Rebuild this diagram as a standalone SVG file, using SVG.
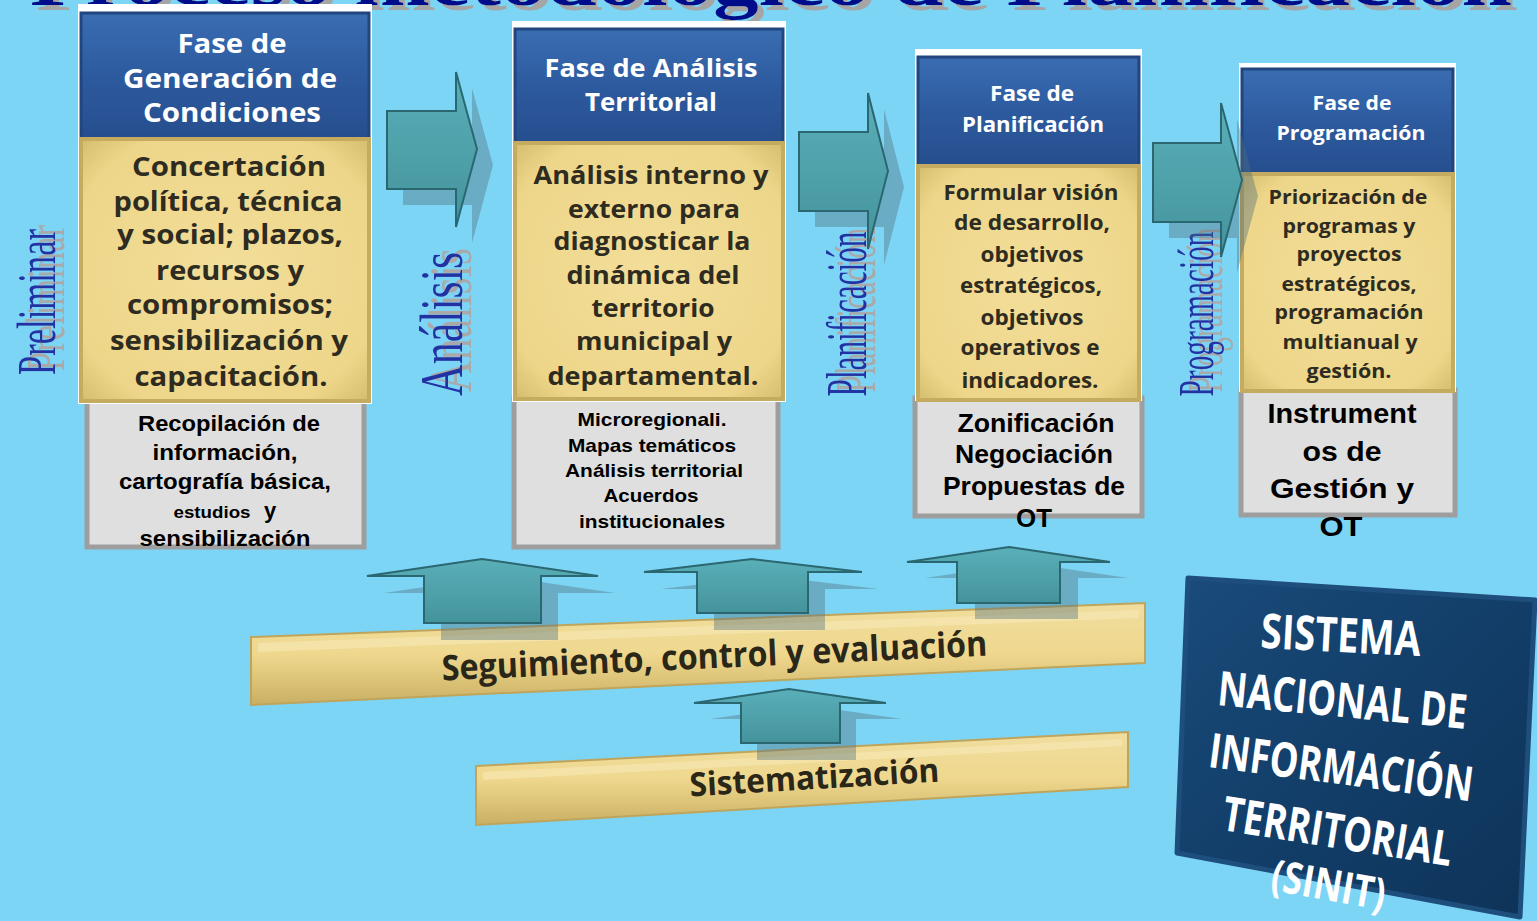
<svg xmlns="http://www.w3.org/2000/svg" width="1537" height="921" viewBox="0 0 1537 921">
<defs>
<linearGradient id="gBlue" x1="0" y1="0" x2="0" y2="1">
<stop offset="0" stop-color="#3A6DB3"/><stop offset="0.5" stop-color="#2D5A9E"/><stop offset="1" stop-color="#264E8E"/>
</linearGradient>
<radialGradient id="gYel" cx="0.5" cy="0.5" r="0.7">
<stop offset="0" stop-color="#F3DE9A"/><stop offset="0.8" stop-color="#EDD689"/><stop offset="1" stop-color="#D6BE70"/>
</radialGradient>
<linearGradient id="gTeal" x1="0" y1="0" x2="0" y2="1">
<stop offset="0" stop-color="#5AAFB8"/><stop offset="1" stop-color="#44939C"/>
</linearGradient>
<linearGradient id="gBar" x1="0" y1="0" x2="0" y2="1">
<stop offset="0" stop-color="#F0DD9E"/><stop offset="0.5" stop-color="#EFD88E"/><stop offset="1" stop-color="#C9AF63"/>
</linearGradient>
<linearGradient id="gSin" x1="0" y1="0" x2="1" y2="1">
<stop offset="0" stop-color="#1A4B7A"/><stop offset="0.5" stop-color="#123E69"/><stop offset="1" stop-color="#0E3358"/>
</linearGradient>
<filter id="fTitle" x="-5%" y="-30%" width="110%" height="160%">
<feOffset in="SourceAlpha" dx="6" dy="5" result="o"/>
<feFlood flood-color="#A5A5A5"/>
<feComposite in2="o" operator="in" result="s"/>
<feMerge><feMergeNode in="s"/><feMergeNode in="SourceGraphic"/></feMerge>
</filter>
<filter id="fVert" x="-10%" y="-30%" width="120%" height="160%">
<feOffset in="SourceAlpha" dx="4" dy="9" result="o"/>
<feFlood flood-color="#A9A9A9"/>
<feComposite in2="o" operator="in" result="s"/>
<feMerge><feMergeNode in="s"/><feMergeNode in="SourceGraphic"/></feMerge>
</filter>
<style>
.bg{fill:#7DD5F6}
.wb{fill:#FFFFFF}
.bh{fill:url(#gBlue);stroke:#21467F;stroke-width:3}
.yb{fill:url(#gYel);stroke:#C4AB60;stroke-width:4}
.gb{fill:#DFDFDF;stroke:#9E9E9E;stroke-width:5}
.hd{font-family:"Open Sans","Liberation Sans",sans-serif;font-weight:700;fill:#FFFFFF;text-anchor:middle}
.yl{font-family:"Open Sans","Liberation Sans",sans-serif;font-weight:700;fill:#2E2B20;text-anchor:middle}
.gr{font-family:"Liberation Sans",Arial,sans-serif;font-weight:700;fill:#000000;text-anchor:middle}
.vl{font-family:"Liberation Serif","Times New Roman",serif;fill:#2333A3;text-anchor:middle;filter:url(#fVert)}
.ar{fill:url(#gTeal);stroke:#2B6770;stroke-width:2}
.sh{fill:#4F6E7E;opacity:0.4}
.bar{fill:url(#gBar);stroke:#BFA55C;stroke-width:2}
.bt{font-family:"Open Sans","Liberation Sans",sans-serif;font-weight:700;fill:#2A2618;text-anchor:middle}
.st{font-family:"Open Sans","Liberation Sans",sans-serif;font-weight:700;fill:#FFFFFF;text-anchor:middle}
</style>
</defs>
<rect class="bg" x="0" y="0" width="1537" height="921"/>

<g id="title">
<text x="30" y="5" font-family="Liberation Serif,serif" font-weight="700" font-size="72" fill="#00108A" filter="url(#fTitle)" textLength="1482" lengthAdjust="spacingAndGlyphs">Proceso metodológico de Planificación</text>
</g>

<g id="label-preliminar">
<text class="vl" font-size="54" transform="translate(55,302) rotate(-90)" textLength="146" lengthAdjust="spacingAndGlyphs">Preliminar</text>
</g>
<g id="label-analisis">
<text class="vl" font-size="62" transform="translate(462,324) rotate(-90)" textLength="144" lengthAdjust="spacingAndGlyphs">Análisis</text>
</g>
<g id="label-planificacion">
<text class="vl" font-size="56" transform="translate(866,314) rotate(-90)" textLength="165" lengthAdjust="spacingAndGlyphs">Planificación</text>
</g>
<g id="label-programacion">
<text class="vl" font-size="50" transform="translate(1213,314) rotate(-90)" textLength="165" lengthAdjust="spacingAndGlyphs">Programación</text>
</g>

<g id="fase-generacion">
<rect class="gb" x="87" y="400" width="277" height="147"/>
<rect class="wb" x="78" y="4" width="294" height="400"/>
<rect class="bh" x="81" y="13" width="288" height="127"/>
<rect class="yb" x="81" y="139" width="288" height="262"/>
<text class="hd" font-size="27" x="232" y="53" textLength="109" lengthAdjust="spacingAndGlyphs">Fase de</text>
<text class="hd" font-size="27" x="230" y="88" textLength="214" lengthAdjust="spacingAndGlyphs">Generación de</text>
<text class="hd" font-size="27" x="232" y="122" textLength="178" lengthAdjust="spacingAndGlyphs">Condiciones</text>
<text class="yl" font-size="26" x="229" y="176" textLength="194" lengthAdjust="spacingAndGlyphs">Concertación</text>
<text class="yl" font-size="26" x="228" y="211" textLength="229" lengthAdjust="spacingAndGlyphs">política, técnica</text>
<text class="yl" font-size="26" x="230" y="244" textLength="226" lengthAdjust="spacingAndGlyphs">y social; plazos,</text>
<text class="yl" font-size="26" x="230" y="280" textLength="148" lengthAdjust="spacingAndGlyphs">recursos y</text>
<text class="yl" font-size="26" x="230" y="314" textLength="206" lengthAdjust="spacingAndGlyphs">compromisos;</text>
<text class="yl" font-size="26" x="229" y="350" textLength="238" lengthAdjust="spacingAndGlyphs">sensibilización y</text>
<text class="yl" font-size="26" x="231" y="386" textLength="193" lengthAdjust="spacingAndGlyphs">capacitación.</text>
<text class="gr" font-size="22" x="229" y="431" textLength="182" lengthAdjust="spacingAndGlyphs">Recopilación de</text>
<text class="gr" font-size="22" x="225" y="460" textLength="145" lengthAdjust="spacingAndGlyphs">información,</text>
<text class="gr" font-size="22" x="225" y="489" textLength="212" lengthAdjust="spacingAndGlyphs">cartografía básica,</text>
<text class="gr" font-size="16" x="212" y="518" textLength="77" lengthAdjust="spacingAndGlyphs">estudios</text>
<text class="gr" font-size="22" x="270" y="518">y</text>
<text class="gr" font-size="22" x="225" y="546" textLength="171" lengthAdjust="spacingAndGlyphs">sensibilización</text>
</g>

<g id="fase-analisis">
<rect class="gb" x="514" y="398" width="264" height="149"/>
<rect class="wb" x="512" y="21" width="274" height="381"/>
<rect class="bh" x="515" y="29" width="268" height="115"/>
<rect class="yb" x="515" y="143" width="268" height="256"/>
<text class="hd" font-size="25" x="651" y="77" textLength="213" lengthAdjust="spacingAndGlyphs">Fase de Análisis</text>
<text class="hd" font-size="25" x="651" y="111" textLength="132" lengthAdjust="spacingAndGlyphs">Territorial</text>
<text class="yl" font-size="25" x="651" y="184" textLength="235" lengthAdjust="spacingAndGlyphs">Análisis interno y</text>
<text class="yl" font-size="25" x="654" y="218" textLength="172" lengthAdjust="spacingAndGlyphs">externo para</text>
<text class="yl" font-size="25" x="652" y="250" textLength="197" lengthAdjust="spacingAndGlyphs">diagnosticar la</text>
<text class="yl" font-size="25" x="653" y="284" textLength="173" lengthAdjust="spacingAndGlyphs">dinámica del</text>
<text class="yl" font-size="25" x="653" y="317" textLength="123" lengthAdjust="spacingAndGlyphs">territorio</text>
<text class="yl" font-size="25" x="654" y="350" textLength="156" lengthAdjust="spacingAndGlyphs">municipal y</text>
<text class="yl" font-size="25" x="653" y="385" textLength="211" lengthAdjust="spacingAndGlyphs">departamental.</text>
<text class="gr" font-size="19" x="652" y="426" textLength="149" lengthAdjust="spacingAndGlyphs">Microregionali.</text>
<text class="gr" font-size="19" x="652" y="452" textLength="168" lengthAdjust="spacingAndGlyphs">Mapas temáticos</text>
<text class="gr" font-size="19" x="654" y="477" textLength="178" lengthAdjust="spacingAndGlyphs">Análisis territorial</text>
<text class="gr" font-size="19" x="651" y="502" textLength="95" lengthAdjust="spacingAndGlyphs">Acuerdos</text>
<text class="gr" font-size="19" x="652" y="528" textLength="146" lengthAdjust="spacingAndGlyphs">institucionales</text>
</g>

<g id="fase-planificacion">
<rect class="gb" x="915" y="398" width="227" height="118"/>
<rect class="wb" x="915" y="49" width="227" height="352"/>
<rect class="bh" x="918" y="57" width="221" height="110"/>
<rect class="yb" x="918" y="166" width="221" height="234"/>
<text class="hd" font-size="22" x="1032" y="101" textLength="84" lengthAdjust="spacingAndGlyphs">Fase de</text>
<text class="hd" font-size="22" x="1033" y="132" textLength="142" lengthAdjust="spacingAndGlyphs">Planificación</text>
<text class="yl" font-size="22" x="1031" y="200" textLength="175" lengthAdjust="spacingAndGlyphs">Formular visión</text>
<text class="yl" font-size="22" x="1032" y="230" textLength="156" lengthAdjust="spacingAndGlyphs">de desarrollo,</text>
<text class="yl" font-size="22" x="1032" y="262" textLength="103" lengthAdjust="spacingAndGlyphs">objetivos</text>
<text class="yl" font-size="22" x="1031" y="293" textLength="142" lengthAdjust="spacingAndGlyphs">estratégicos,</text>
<text class="yl" font-size="22" x="1032" y="325" textLength="103" lengthAdjust="spacingAndGlyphs">objetivos</text>
<text class="yl" font-size="22" x="1030" y="355" textLength="139" lengthAdjust="spacingAndGlyphs">operativos e</text>
<text class="yl" font-size="22" x="1030" y="388" textLength="137" lengthAdjust="spacingAndGlyphs">indicadores.</text>
<text class="gr" font-size="25" x="1036" y="432" textLength="157" lengthAdjust="spacingAndGlyphs">Zonificación</text>
<text class="gr" font-size="25" x="1034" y="463" textLength="158" lengthAdjust="spacingAndGlyphs">Negociación</text>
<text class="gr" font-size="25" x="1034" y="495" textLength="182" lengthAdjust="spacingAndGlyphs">Propuestas de</text>
<text class="gr" font-size="25" x="1034" y="527" textLength="36" lengthAdjust="spacingAndGlyphs">OT</text>
</g>

<g id="fase-programacion">
<rect class="gb" x="1241" y="390" width="214" height="125"/>
<rect class="wb" x="1239" y="63" width="217" height="329"/>
<rect class="bh" x="1242" y="69" width="211" height="106"/>
<rect class="yb" x="1242" y="174" width="211" height="217"/>
<text class="hd" font-size="20" x="1352" y="110" textLength="79" lengthAdjust="spacingAndGlyphs">Fase de</text>
<text class="hd" font-size="20" x="1351" y="140" textLength="149" lengthAdjust="spacingAndGlyphs">Programación</text>
<text class="yl" font-size="20" x="1348" y="204" textLength="159" lengthAdjust="spacingAndGlyphs">Priorización de</text>
<text class="yl" font-size="20" x="1349" y="233" textLength="133" lengthAdjust="spacingAndGlyphs">programas y</text>
<text class="yl" font-size="20" x="1349" y="261" textLength="105" lengthAdjust="spacingAndGlyphs">proyectos</text>
<text class="yl" font-size="20" x="1349" y="291" textLength="135" lengthAdjust="spacingAndGlyphs">estratégicos,</text>
<text class="yl" font-size="20" x="1349" y="319" textLength="149" lengthAdjust="spacingAndGlyphs">programación</text>
<text class="yl" font-size="20" x="1350" y="349" textLength="135" lengthAdjust="spacingAndGlyphs">multianual y</text>
<text class="yl" font-size="20" x="1349" y="378" textLength="85" lengthAdjust="spacingAndGlyphs">gestión.</text>
<text class="gr" font-size="28" x="1342" y="423" textLength="149" lengthAdjust="spacingAndGlyphs">Instrument</text>
<text class="gr" font-size="28" x="1342" y="461" textLength="79" lengthAdjust="spacingAndGlyphs">os de</text>
<text class="gr" font-size="28" x="1342" y="498" textLength="144" lengthAdjust="spacingAndGlyphs">Gestión y</text>
<text class="gr" font-size="28" x="1341" y="536" textLength="43" lengthAdjust="spacingAndGlyphs">OT</text>
</g>

<g id="barra-seguimiento">
<polygon class="bar" points="251,637 1145,603 1145,663 251,705"/>
<polygon points="258,643 1139,610 1139,618 258,652" fill="#F7E9B8" opacity="0.6"/>
<text class="bt" font-size="35" transform="translate(715,668) rotate(-2.6)" textLength="546" lengthAdjust="spacingAndGlyphs">Seguimiento, control y evaluación</text>
</g>

<g id="barra-sistematizacion">
<polygon class="bar" points="476,766 1128,732 1128,787 476,825"/>
<polygon points="483,772 1122,739 1122,746 483,780" fill="#F7E9B8" opacity="0.6"/>
<text class="bt" font-size="33" transform="translate(815,789) rotate(-3.4)" textLength="250" lengthAdjust="spacingAndGlyphs">Sistematización</text>
</g>

<g id="sinit">
<polygon points="1188,578 1535,600 1520,917 1177,853" fill="url(#gSin)" stroke="#1E4E7C" stroke-width="5" stroke-linejoin="round"/>
<text class="st" font-size="48" transform="translate(1340,652) rotate(3)" textLength="160" lengthAdjust="spacingAndGlyphs">SISTEMA</text>
<text class="st" font-size="48" transform="translate(1341,717) rotate(5.5)" textLength="250" lengthAdjust="spacingAndGlyphs">NACIONAL DE</text>
<text class="st" font-size="48" transform="translate(1339,784) rotate(7.5)" textLength="266" lengthAdjust="spacingAndGlyphs">INFORMACIÓN</text>
<text class="st" font-size="48" transform="translate(1335,848) rotate(9)" textLength="232" lengthAdjust="spacingAndGlyphs">TERRITORIAL</text>
<text class="st" font-size="44" transform="translate(1326,900) rotate(10)" textLength="115" lengthAdjust="spacingAndGlyphs">(SINIT)</text>
</g>

<g id="connectors">
<polygon class="sh" points="403,127 472,127 472,88 493,165 472,243 472,205 403,205"/>
<polygon class="ar" points="387,111 456,111 456,72 477,149 456,227 456,189 387,189"/>
<polygon class="sh" points="815,148 884,148 884,109 904,187 884,265 884,227 815,227"/>
<polygon class="ar" points="799,132 868,132 868,93 888,171 868,249 868,211 799,211"/>
<polygon class="sh" points="1169,159 1237,159 1237,119 1258,196 1237,273 1237,238 1169,238"/>
<polygon class="ar" points="1153,143 1221,143 1221,103 1242,180 1221,257 1221,222 1153,222"/>
<polygon class="sh" points="441,640 441,593 384,593 499,576 615,593 558,593 558,640"/>
<polygon class="ar" points="424,623 424,576 367,576 482,559 598,576 541,576 541,623"/>
<polygon class="sh" points="714,630 714,589 661,589 769,576 879,589 825,589 825,630"/>
<polygon class="ar" points="697,613 697,572 644,572 752,559 862,572 808,572 808,613"/>
<polygon class="sh" points="975,619 975,578 925,578 1027,563 1128,578 1078,578 1078,619"/>
<polygon class="ar" points="957,603 957,562 907,562 1009,547 1110,562 1060,562 1060,603"/>
<polygon class="sh" points="757,760 757,719 710,719 805,705 902,719 856,719 856,760"/>
<polygon class="ar" points="741,743 741,703 694,703 789,689 886,703 840,703 840,743"/>
</g>
</svg>
